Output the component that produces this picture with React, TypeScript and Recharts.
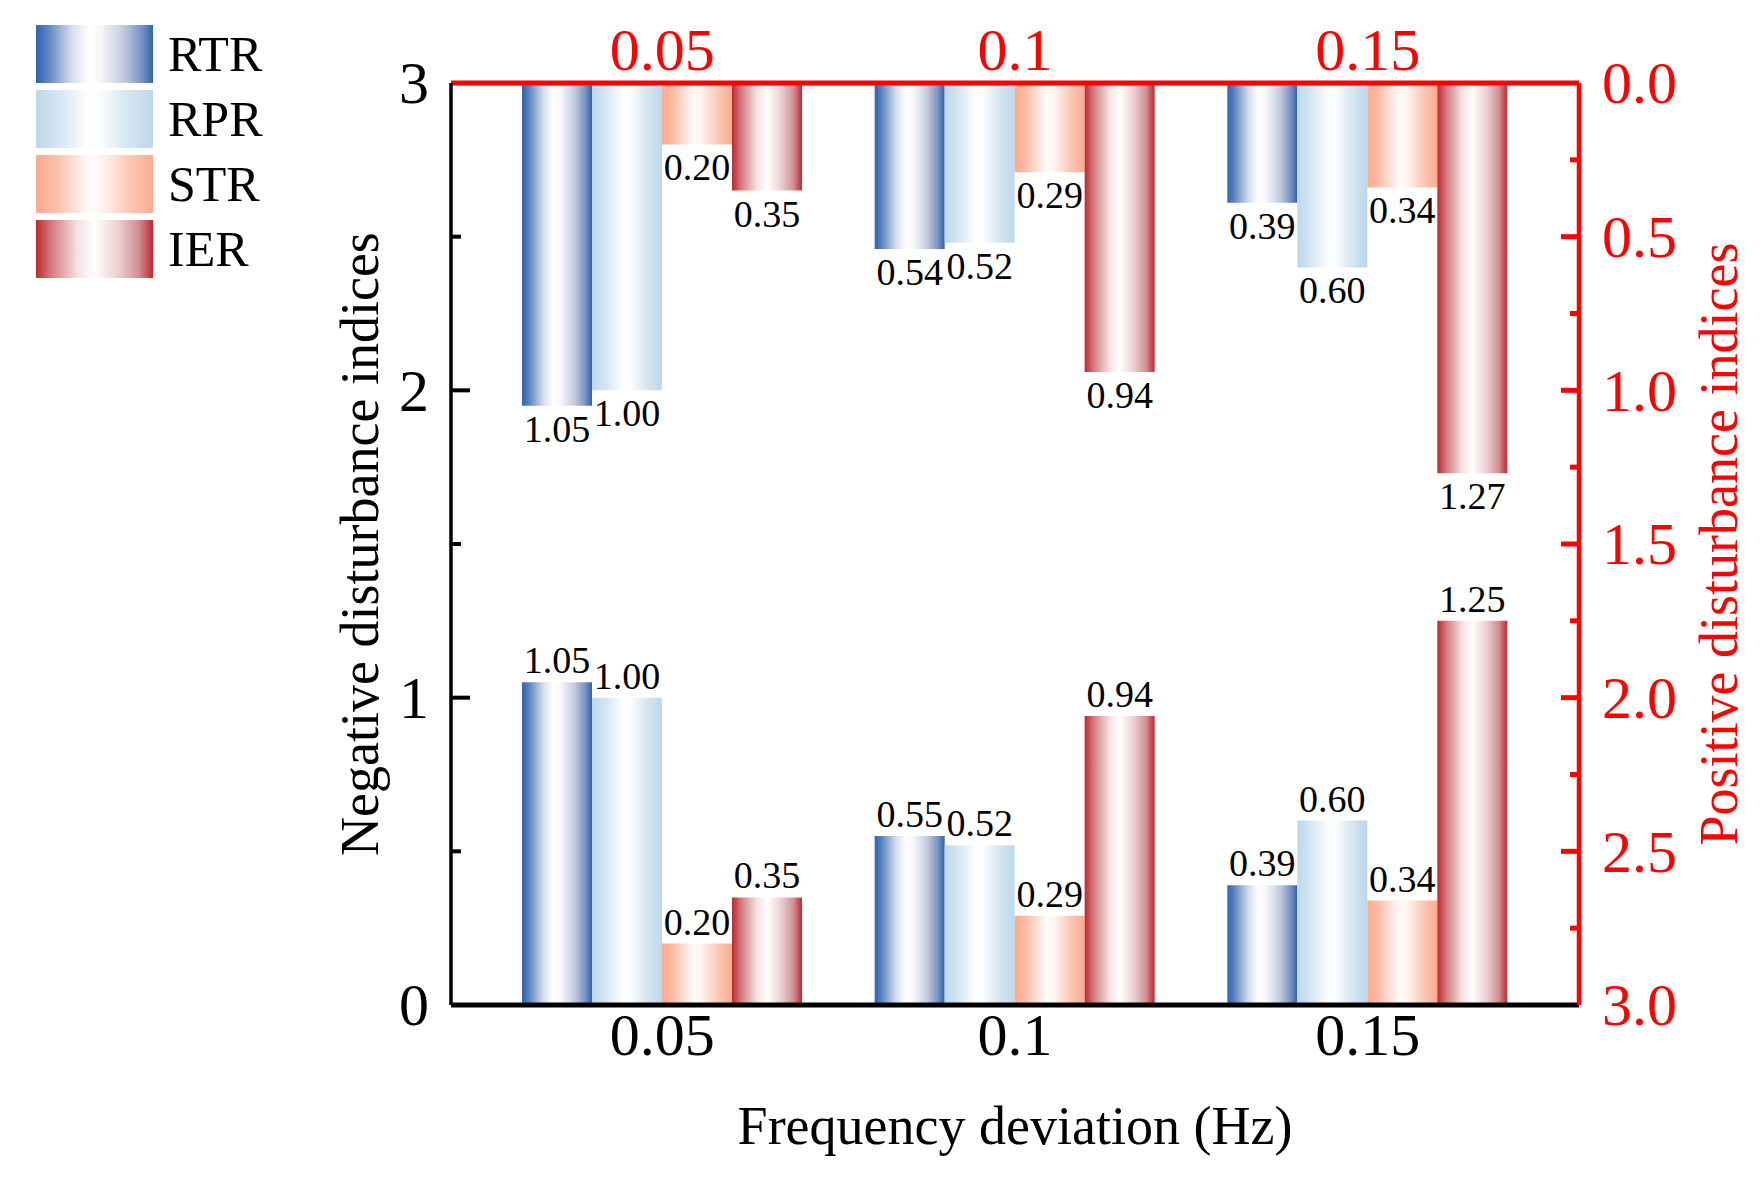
import { BarChart, Bar, XAxis, YAxis, Legend, LabelList, Label } from "recharts";

const categories = ["0.05", "0.1", "0.15"];
const seriesNames = ["RTR", "RPR", "STR", "IER"];

// negative disturbance (bars rising from the bottom, left axis)
const negRTR = [1.05, 0.55, 0.39];
const negRPR = [1.0, 0.52, 0.6];
const negSTR = [0.2, 0.29, 0.34];
const negIER = [0.35, 0.94, 1.25];

// positive disturbance (bars hanging from the top, right axis reversed)
const posRTR = [1.05, 0.54, 0.39];
const posRPR = [1.0, 0.52, 0.6];
const posSTR = [0.2, 0.29, 0.34];
const posIER = [0.35, 0.94, 1.27];

const leftTicks = [0, 0.5, 1, 1.5, 2, 2.5, 3];
const rightTicks = [0, 0.25, 0.5, 0.75, 1, 1.25, 1.5, 1.75, 2, 2.25, 2.5, 2.75, 3];

const data = categories.map((cat, i) => ({
  cat,
  negRTR: negRTR[i],
  negRPR: negRPR[i],
  negSTR: negSTR[i],
  negIER: negIER[i],
  posRTR: posRTR[i],
  posRPR: posRPR[i],
  posSTR: posSTR[i],
  posIER: posIER[i],
}));

const FONT = "'Liberation Serif', 'Times New Roman', serif";
const RED = "#ff0000";

// plot box in page pixels
const PLOT = { left: 451, top: 83, right: 1579, bottom: 1005 };
const W = 1764;
const H = 1179;
const Y_W = 100;
const X_H = 60;
const X_PAD = { left: 35, right: 35 };

// horizontal gradients: [offset, colour]
const gradients: Record<string, [number, string][]> = {
  RTR: [
    [0, "#2c65ae"],
    [0.1, "#5c83bf"],
    [0.3, "#d3dbeb"],
    [0.45, "#ffffff"],
    [0.55, "#f8f8fc"],
    [0.75, "#c3cadf"],
    [0.9, "#7c93c3"],
    [1, "#2c65ae"],
  ],
  RPR: [
    [0, "#bcd7eb"],
    [0.2, "#d6e6f3"],
    [0.45, "#ffffff"],
    [0.55, "#fbfdfe"],
    [0.8, "#d3e4f1"],
    [1, "#bcd7eb"],
  ],
  STR: [
    [0, "#fbab90"],
    [0.15, "#fbbba4"],
    [0.45, "#fffafa"],
    [0.55, "#fff6f3"],
    [0.8, "#fcc7b5"],
    [1, "#fbab90"],
  ],
  IER: [
    [0, "#c0272d"],
    [0.12, "#d0767a"],
    [0.35, "#f4e0e1"],
    [0.5, "#ffffff"],
    [0.7, "#ecd0d2"],
    [0.88, "#d08e92"],
    [1, "#c0272d"],
  ],
};

const cssGradient = (name: string) =>
  `linear-gradient(to right, ${gradients[name]
    .map(([o, c]) => `${c} ${o * 100}%`)
    .join(", ")})`;

const upLabel = (props: any) => {
  const { x, y, width, height, value } = props;
  const top = Math.min(Number(y), Number(y) + Number(height));
  return (
    <text
      x={Number(x) + Number(width) / 2}
      y={top - 9}
      textAnchor="middle"
      fontSize={38}
      fontFamily={FONT}
      fill="#000"
    >
      {Number(value).toFixed(2)}
    </text>
  );
};

const downLabel = (props: any) => {
  const { x, y, width, height, value } = props;
  const bottom = Math.max(Number(y), Number(y) + Number(height));
  return (
    <text
      x={Number(x) + Number(width) / 2}
      y={bottom + 36}
      textAnchor="middle"
      fontSize={38}
      fontFamily={FONT}
      fill="#000"
    >
      {Number(value).toFixed(2)}
    </text>
  );
};

const LEFT_GAP = 22;
const RIGHT_GAP = 23;

const LeftTick = (props: any) => {
  const { x, y, payload } = props;
  const v = payload.value;
  const major = Number.isInteger(v);
  const inner = v > 0 && v < 3;
  const ax = x + LEFT_GAP;
  return (
    <g>
      {inner && (
        <line x1={ax} x2={ax + (major ? 19 : 10)} y1={y} y2={y} stroke="#000" strokeWidth={4} />
      )}
      {major && (
        <text x={x} y={y} dy="0.34em" textAnchor="end" fontSize={60} fontFamily={FONT} fill="#000">
          {v}
        </text>
      )}
    </g>
  );
};

const RightTick = (props: any) => {
  const { x, y, payload } = props;
  const v = payload.value;
  const major = Number.isInteger(v * 2);
  const inner = v > 0 && v < 3;
  const ax = x - RIGHT_GAP;
  return (
    <g>
      {inner && (
        <line x1={ax} x2={ax - (major ? 18 : 9)} y1={y} y2={y} stroke={RED} strokeWidth={5} />
      )}
      {major && (
        <text x={x} y={y} dy="0.34em" textAnchor="start" fontSize={60} fontFamily={FONT} fill={RED}>
          {v.toFixed(1)}
        </text>
      )}
    </g>
  );
};

const renderLegend = () => (
  <div style={{ display: "flex", flexDirection: "column", gap: 7 }}>
    {seriesNames.map((name) => (
      <div key={name} style={{ display: "flex", alignItems: "center", height: 58 }}>
        <div style={{ width: 117, height: 58, background: cssGradient(name) }} />
        <span
          style={{
            marginLeft: 15,
            fontFamily: FONT,
            fontSize: 50,
            lineHeight: "58px",
            color: "#000",
          }}
        >
          {name}
        </span>
      </div>
    ))}
  </div>
);

export default function App() {
  return (
    <div style={{ position: "absolute", left: 0, top: 0, background: "#fff" }}>
      <BarChart
        width={W}
        height={H}
        data={data}
        barSize={70}
        barGap={0}
        margin={{
          left: PLOT.left - Y_W,
          right: W - PLOT.right - Y_W,
          top: PLOT.top - X_H,
          bottom: H - PLOT.bottom - X_H,
        }}
      >
        <defs>
          {seriesNames.map((name) => (
            <linearGradient key={name} id={`grad${name}`} x1="0" y1="0" x2="1" y2="0">
              {gradients[name].map(([o, c]) => (
                <stop key={o} offset={`${o * 100}%`} stopColor={c} />
              ))}
            </linearGradient>
          ))}
        </defs>
        <Legend
          layout="vertical"
          align="center"
          verticalAlign="middle"
          content={renderLegend}
          wrapperStyle={{ left: 36, top: 25, width: "auto" }}
        />
        <XAxis
          xAxisId="bottom"
          dataKey="cat"
          orientation="bottom"
          height={X_H}
          padding={X_PAD}
          interval={0}
          tickLine={false}
          tickSize={0}
          tickMargin={7}
          axisLine={{ stroke: "#000", strokeWidth: 5 }}
          tick={{ fontSize: 60, fontFamily: FONT, fill: "#000" }}
        >
          <Label
            content={() => (
              <text
                x={(PLOT.left + PLOT.right) / 2}
                y={PLOT.bottom + 139}
                textAnchor="middle"
                fontSize={54}
                fontFamily={FONT}
                fill="#000"
              >
                Frequency deviation (Hz)
              </text>
            )}
          />
        </XAxis>
        <XAxis
          xAxisId="top"
          dataKey="cat"
          orientation="top"
          height={X_H}
          padding={X_PAD}
          interval={0}
          tickLine={false}
          tickSize={0}
          tickMargin={13}
          axisLine={{ stroke: RED, strokeWidth: 5 }}
          tick={{ fontSize: 60, fontFamily: FONT, fill: RED }}
        />
        <YAxis
          yAxisId="left"
          orientation="left"
          width={Y_W}
          domain={[0, 3]}
          ticks={leftTicks}
          interval={0}
          tickSize={0}
          tickMargin={LEFT_GAP}
          tickLine={false}
          axisLine={{ stroke: "#000", strokeWidth: 3.5 }}
          tick={LeftTick}
        >
          <Label
            content={() => {
              const cx = PLOT.left - 73;
              const cy = (PLOT.top + PLOT.bottom) / 2;
              return (
                <text
                  x={cx}
                  y={cy}
                  transform={`rotate(-90 ${cx} ${cy})`}
                  textAnchor="middle"
                  fontSize={54}
                  fontFamily={FONT}
                  fill="#000"
                >
                  Negative disturbance indices
                </text>
              );
            }}
          />
        </YAxis>
        <YAxis
          yAxisId="right"
          orientation="right"
          width={Y_W}
          domain={[0, 3]}
          reversed
          ticks={rightTicks}
          interval={0}
          tickSize={0}
          tickMargin={RIGHT_GAP}
          tickLine={false}
          axisLine={{ stroke: RED, strokeWidth: 4.5 }}
          tick={RightTick}
        >
          <Label
            content={() => {
              const cx = PLOT.right + 158;
              const cy = (PLOT.top + PLOT.bottom) / 2;
              return (
                <text
                  x={cx}
                  y={cy}
                  transform={`rotate(-90 ${cx} ${cy})`}
                  textAnchor="middle"
                  fontSize={54}
                  fontFamily={FONT}
                  fill={RED}
                >
                  Positive disturbance indices
                </text>
              );
            }}
          />
        </YAxis>

        {seriesNames.map((name) => (
          <Bar
            key={`neg${name}`}
            dataKey={`neg${name}`}
            name={name}
            xAxisId="bottom"
            yAxisId="left"
            fill={`url(#grad${name})`}
            isAnimationActive={false}
          >
            <LabelList dataKey={`neg${name}`} content={upLabel} />
          </Bar>
        ))}
        {seriesNames.map((name) => (
          <Bar
            key={`pos${name}`}
            dataKey={`pos${name}`}
            name={`${name} (positive)`}
            legendType="none"
            xAxisId="top"
            yAxisId="right"
            fill={`url(#grad${name})`}
            isAnimationActive={false}
          >
            <LabelList dataKey={`pos${name}`} content={downLabel} />
          </Bar>
        ))}
      </BarChart>
    </div>
  );
}
